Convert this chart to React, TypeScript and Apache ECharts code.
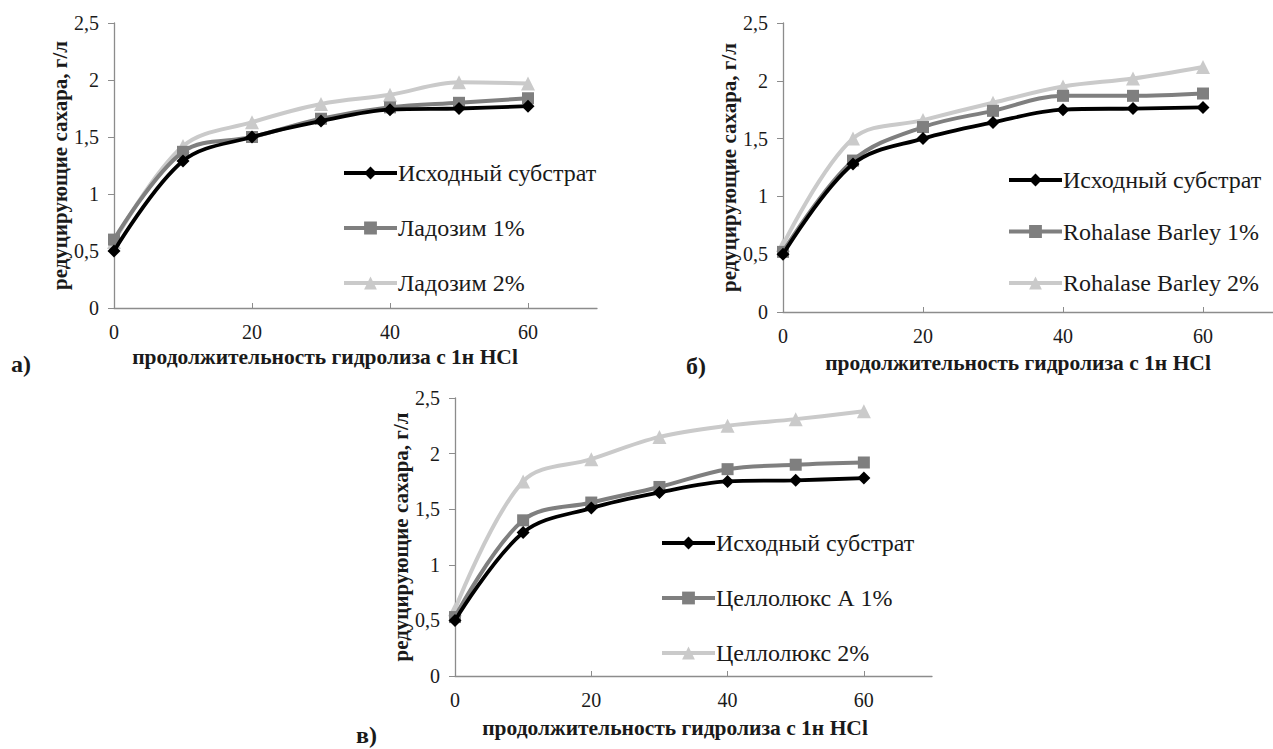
import React, { useEffect, useRef } from "react";
import * as echarts from "echarts";

const hours = [0, 10, 20, 30, 40, 50, 60];
const xTickValues = [0, 20, 40, 60];

const baseName = "Исходный субстрат";

// Panel а
const aNames = [baseName, "Ладозим 1%", "Ладозим 2%"];
const aBase = [0.5, 1.29, 1.5, 1.64, 1.74, 1.75, 1.77];
const aLad1 = [0.6, 1.37, 1.5, 1.66, 1.76, 1.8, 1.84];
const aLad2 = [0.58, 1.42, 1.63, 1.79, 1.87, 1.98, 1.97];

// Panel б
const bNames = [baseName, "Rohalase Barley 1%", "Rohalase Barley 2%"];
const bBase = [0.5, 1.28, 1.5, 1.64, 1.75, 1.76, 1.77];
const bRoh1 = [0.52, 1.31, 1.6, 1.74, 1.87, 1.87, 1.89];
const bRoh2 = [0.58, 1.5, 1.66, 1.81, 1.95, 2.02, 2.12];

// Panel в
const cNames = [baseName, "Целлолюкс А 1%", "Целлолюкс 2%"];
const cBase = [0.5, 1.29, 1.51, 1.65, 1.75, 1.76, 1.78];
const cCel1 = [0.53, 1.4, 1.56, 1.7, 1.86, 1.9, 1.92];
const cCel2 = [0.6, 1.75, 1.95, 2.15, 2.25, 2.31, 2.38];

const yTitle = "редуцирующие сахара, г/л";
const xTitle = "продолжительность гидролиза с 1н HCl";
const panelLabels = ["а)", "б)", "в)"];

const FONT = "Liberation Serif";
const TEXT = "#1a1a1a";
const AXIS = "#8c8c8c";
const C_BLACK = "#000000";
const C_DARK = "#7f7f7f";
const C_LIGHT = "#cacaca";

const pair = (vals: number[]) => vals.map((v, i) => [hours[i], v]);

const seriesStyles = [
  { color: C_BLACK, symbol: "diamond", symbolSize: 13, width: 3.8 },
  { color: C_DARK, symbol: "rect", symbolSize: 12, width: 4 },
  { color: C_LIGHT, symbol: "triangle", symbolSize: 14, width: 4 },
];

export default function App() {
  const ref = useRef<HTMLDivElement>(null);

  useEffect(() => {
    if (!ref.current) return;
    const chart = echarts.init(ref.current, undefined, { renderer: "svg" });

    const grids = [
      { left: 114, top: 23, width: 483, height: 285 },
      { left: 783, top: 23, width: 494, height: 289 },
      { left: 455, top: 398, width: 477, height: 278 },
    ];

    const xAxes = grids.map((_, i) => ({
      type: "value",
      gridIndex: i,
      min: 0,
      max: 70,
      interval: 10,
      axisLine: { show: true, lineStyle: { color: AXIS, width: 1.3 } },
      axisTick: {
        show: true,
        inside: true,
        length: 5,
        lineStyle: { color: AXIS },
        customValues: xTickValues,
      },
      axisLabel: {
        customValues: xTickValues,
        margin: 14,
        fontFamily: FONT,
        fontSize: 20,
        color: TEXT,
      },
      splitLine: { show: false },
    }));

    const yGaps = [41, 43, 38];
    const yAxes = grids.map((_, i) => ({
      type: "value",
      gridIndex: i,
      min: 0,
      max: 2.5,
      interval: 0.5,
      name: yTitle,
      nameLocation: "middle",
      nameGap: yGaps[i],
      nameRotate: 90,
      nameTextStyle: {
        fontFamily: FONT,
        fontSize: 21,
        fontWeight: "bold",
        color: TEXT,
      },
      axisLine: { show: true, lineStyle: { color: AXIS, width: 1.3 } },
      axisTick: { show: true, inside: false, length: 6, lineStyle: { color: AXIS } },
      axisLabel: {
        margin: 15,
        fontFamily: FONT,
        fontSize: 20,
        color: TEXT,
        formatter: (v: number) => String(v).replace(".", ","),
      },
      splitLine: { show: false },
    }));

    const panels = [
      { names: aNames, data: [aBase, aLad1, aLad2] },
      { names: bNames, data: [bBase, bRoh1, bRoh2] },
      { names: cNames, data: [cBase, cCel1, cCel2] },
    ];

    const series: any[] = [];
    panels.forEach((p, gi) => {
      p.data.forEach((vals, si) => {
        const st = seriesStyles[si];
        series.push({
          type: "line",
          name: p.names[si],
          xAxisIndex: gi,
          yAxisIndex: gi,
          data: pair(vals),
          smooth: 0.35,
          symbol: st.symbol,
          symbolSize: st.symbolSize,
          showAllSymbol: true,
          z: 10 - si,
          lineStyle: { color: st.color, width: st.width },
          itemStyle: { color: st.color },
        });
      });
    });

    const legendPos = [
      { left: 342, top: 161, itemGap: 31 },
      { left: 1007, top: 168, itemGap: 27.5 },
      { left: 660, top: 531, itemGap: 31 },
    ];

    const legends = panels.map((p, gi) => ({
      orient: "vertical",
      left: legendPos[gi].left,
      top: legendPos[gi].top,
      itemGap: legendPos[gi].itemGap,
      itemWidth: 53,
      itemHeight: 16,
      padding: 0,
      selectedMode: false,
      data: p.names,
      lineStyle: { width: 4 },
      textStyle: {
        fontFamily: FONT,
        fontSize: 24,
        lineHeight: 24,
        color: TEXT,
        padding: [0, 0, 0, -4],
      },
    }));

    const xTitlePos = [
      { x: 325, y: 357 },
      { x: 1018, y: 363 },
      { x: 675, y: 728 },
    ];
    const panelLabelPos = [
      { x: 11, y: 364 },
      { x: 686, y: 366 },
      { x: 356, y: 735 },
    ];

    const graphic: any[] = [];
    xTitlePos.forEach((p) =>
      graphic.push({
        type: "text",
        x: p.x,
        y: p.y,
        style: {
          text: xTitle,
          fontFamily: FONT,
          fontSize: 21.5,
          fontWeight: "bold",
          fill: TEXT,
          align: "center",
          verticalAlign: "middle",
        },
      })
    );
    panelLabelPos.forEach((p, i) =>
      graphic.push({
        type: "text",
        x: p.x,
        y: p.y,
        style: {
          text: panelLabels[i],
          fontFamily: FONT,
          fontSize: 24,
          fontWeight: "bold",
          fill: TEXT,
          align: "left",
          verticalAlign: "middle",
        },
      })
    );

    chart.setOption({
      animation: false,
      backgroundColor: "#ffffff",
      grid: grids,
      xAxis: xAxes,
      yAxis: yAxes,
      legend: legends,
      series,
      graphic,
    } as any);

    return () => chart.dispose();
  }, []);

  return (
    <div
      ref={ref}
      style={{ position: "absolute", left: 0, top: 0, width: 1273, height: 749 }}
    />
  );
}
